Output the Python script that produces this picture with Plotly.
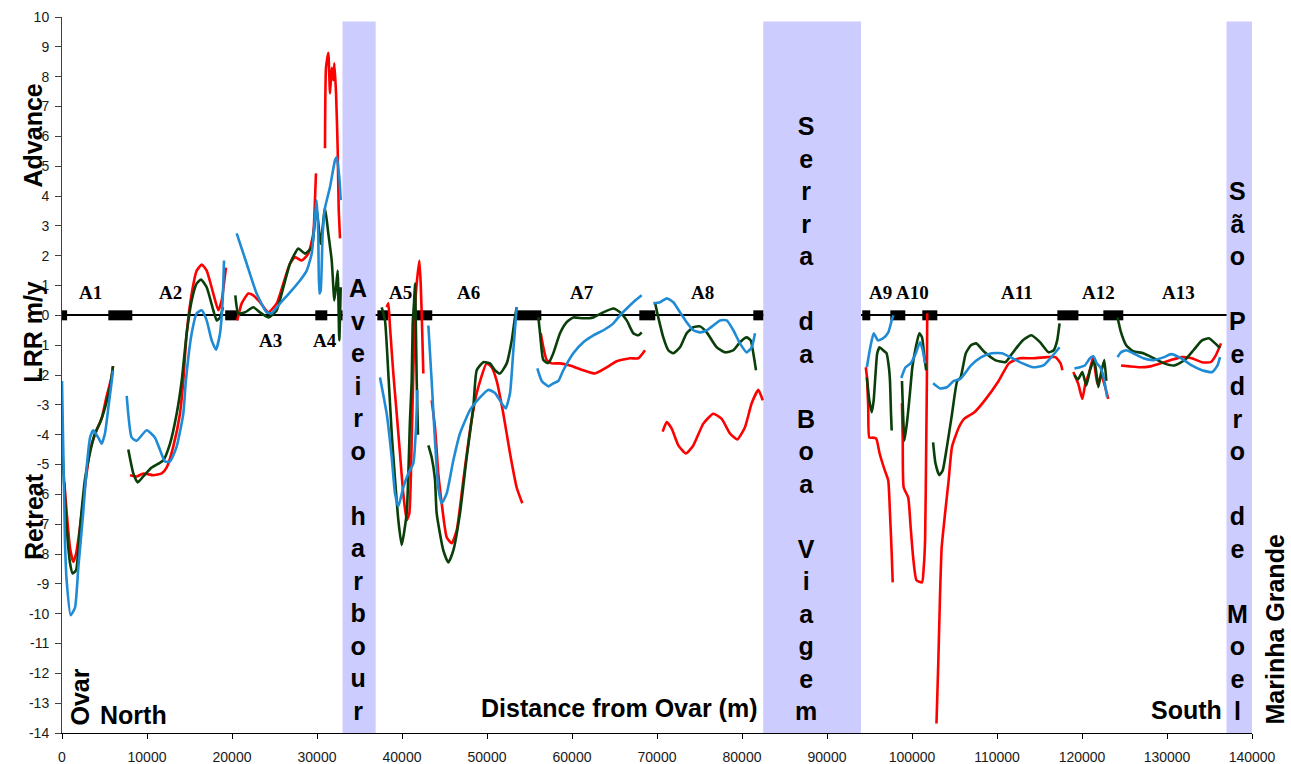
import plotly.graph_objects as go

# ---------------- data (x: distance from Ovar in m, y: LRR in m/y) ----------------
red_x = [270, 550, 940, 1330, 1650, 2120, 2700, 3300, 4080, 4670, 5260, 5850, 6000, None,
         8000, 8790, 9560, 10740, 11730, 12320, 13090, 13880, 14270, 14670, 15260, 15850, 16440, 17020, 17800, 18390, 18790, 19060, 19290, None,
         20620, 21140, 21920, 22510, 23290, 24270, 25260, 26040, 26820, 27410, 28200, 28980, 29570, 29760, 29880, None,
         30940, 31060, 31330, 31530, 31730, 31920, 32040, 32240, 32430, 32550, 32710, None,
         38200, 38390, 38590, 38980, 39380, 39760, 40150, 40550, 40860, 41140, 41330, 41530, 41730, 42040, 42200, 42350, 42510, None,
         43490, 43880, 44270, 44670, 45260, 45850, 46440, 47210, 48000, 48790, 49960, 50550, 51140, 51920, 52710, 53490, 54150, None,
         56320, 56630, 57020, 57610, 58590, 59760, 61330, 62710, 63880, 65260, 66820, 67800, 68590, None,
         70670, 71140, 71730, 72510, 73410, 74270, 75450, 76620, 77610, 78590, 79450, 80350, 81140, 81920, 82440, None,
         94565, 94700, 94850, 94980, 95380, 95790, 96190, 96800, 97200, 97410, 97610, 97730, None,
         98820, 98910, 99020, 99550, 99840, 100130, 100530, 101180, 101380, 101540, 101670, 101750, 101790, None,
         102880, 103090, 103290, 103490, 103890, 104310, 104710, 105520, 106130, 107340, 108560, 110190, 111400, 112620, 114250, 115870, 116880, 117480, 117690, None,
         118980, 119560, 120040, 120390, 120860, 121330, 121800, 122270, 122620, 123090, None,
         124590, 125600, 126820, 128040, 129250, 130470, 131680, 132910, 134120, 135130, 135740, 136350]
red_y = [-5.6, -6.6, -7.8, -8.27, -8.0, -7.1, -5.75, -4.5, -3.85, -3.45, -2.7, -2.05, -1.7, None,
         -5.36, -5.4, -5.3, -5.36, -5.3, -5.1, -4.4, -3.3, -2.2, -0.6, 0.73, 1.5, 1.7, 1.5, 0.73, 0.17, 0.5, 1.07, 1.6, None,
         -0.17, 0.4, 0.73, 0.67, 0.44, 0.1, 0.4, 1.07, 1.73, 1.95, 1.84, 2.07, 2.75, 3.86, 4.76, None,
         5.6, 8.3, 8.8, 7.44, 8.3, 7.88, 8.45, 7.44, 5.6, 3.6, 2.58, None,
         0.27, 0.4, -0.4, -1.95, -3.3, -4.63, -5.97, -6.87, -6.64, -4.2, -1.95, 0.27, 1.07, 1.84, 1.07, -0.27, -1.95, None,
         -2.85, -3.75, -5.3, -6.3, -7.44, -7.64, -7.2, -5.53, -3.86, -2.6, -1.61, -1.74, -2.2, -3.3, -4.63, -5.77, -6.3, None,
         -0.6, -1.07, -1.5, -1.61, -1.61, -1.68, -1.84, -1.95, -1.78, -1.54, -1.44, -1.44, -1.17, None,
         -3.9, -3.58, -3.8, -4.36, -4.63, -4.36, -3.63, -3.3, -3.47, -3.96, -4.16, -3.75, -2.95, -2.5, -2.85, None,
         -1.74, -2.08, -3.08, -4.1, -4.1, -4.13, -4.63, -5.2, -5.53, -6.64, -7.98, -8.95, None,
         -2.95, -4.2, -5.77, -6.1, -7.1, -8.1, -8.88, -8.95, -8.45, -7.54, -4.4, -2.2, 0.07, None,
         -13.68, -11.67, -9.45, -7.78, -6.64, -5.53, -4.4, -3.75, -3.47, -3.25, -2.85, -2.2, -1.61, -1.44, -1.44, -1.4, -1.4, -1.61, -1.84, None,
         -1.9, -2.3, -2.8, -2.3, -1.9, -1.4, -2.3, -2.0, -2.3, -2.8, None,
         -1.68, -1.71, -1.74, -1.71, -1.61, -1.5, -1.4, -1.44, -1.57, -1.57, -1.34, -0.94]

green_x = [0, 550, 940, 1260, 1650, 2120, 2700, 3300, 3880, 4470, 5060, 5650, 6000, None,
           7800, 8390, 8900, 9560, 10550, 11920, 12710, 13490, 14080, 14670, 15260, 15850, 16350, 17020, 17800, 18200, 18590, 18940, None,
           20390, 20740, 21530, 22510, 23290, 24270, 25260, 26040, 26820, 27800, 28590, 29380, 29760, 29960, 30430, 30940, 31330, 31730, 32040, 32240, 32430, 32620, 32790, None,
           37610, 38000, 38390, 38790, 39180, 39570, 39960, 40550, 40940, 41140, 41260, 41410, 41530, 41730, 41880, None,
           43100, 43490, 43880, 44080, 44860, 45450, 46040, 46820, 47610, 48390, 48790, 49570, 50350, 50940, 51530, 52320, 52910, 53290, 53490, None,
           56040, 56240, 56630, 57220, 57800, 58590, 59380, 60150, 61330, 62510, 63690, 64860, 65650, 66440, 67210, 67800, 68200, None,
           69760, 70150, 70740, 71330, 71920, 72710, 73490, 74270, 75060, 75850, 77020, 78000, 78980, 79760, 80550, 81020, 81330, 81650, None,
           94690, 94980, 95260, 95490, 95700, 95910, 96190, 96600, 97000, 97280, 97410, 97530, 97610, None,
           98820, 98950, 99110, 99440, 99760, 100040, 100450, 100860, 101180, 101460, 101670, None,
           102480, 102760, 103210, 103610, 104110, 104710, 105320, 105720, 106330, 106940, 107550, 108560, 109780, 111000, 111810, 113020, 114040, 115060, 116070, 116670, 117080, 117360, None,
           119110, 119520, 120040, 120500, 120980, 121450, 121920, 122270, 122620, 122860, None,
           124180, 124590, 125200, 126010, 127220, 128440, 129660, 130870, 132090, 133110, 134120, 134930, 135660, 136240]
green_y = [-4.3, -7.1, -8.3, -8.65, -8.55, -7.1, -5.5, -4.6, -3.95, -3.6, -3.1, -2.4, -1.7, None,
           -4.5, -5.3, -5.6, -5.4, -5.1, -4.86, -4.3, -3.3, -2.2, -0.6, 0.5, 1.07, 1.2, 0.94, 0.17, -0.17, -0.07, 0.27, None,
           0.67, 0.07, 0.1, 0.27, 0.1, -0.07, 0.17, 0.94, 1.73, 2.24, 2.07, 2.28, 3.2, 3.6, 2.4, 3.6, 2.75, 1.84, 0.5, 0.94, 1.5, -0.84, 0.94, None,
           0.27, -0.17, -1.95, -3.96, -5.5, -6.87, -7.7, -6.64, -3.5, -2.2, -0.27, 0.4, 1.07, -2.2, -4.0, None,
           -4.36, -4.76, -5.5, -6.64, -7.88, -8.28, -7.88, -6.64, -4.76, -3.08, -1.84, -1.57, -1.61, -1.84, -1.95, -1.61, -0.84, -0.07, 0.27, None,
           -0.07, -0.6, -1.5, -1.6, -1.27, -0.6, -0.23, -0.07, -0.1, -0.07, 0.1, 0.23, 0.1, -0.17, -0.6, -0.67, -0.57, None,
           0.44, -0.07, -0.74, -1.17, -1.27, -1.07, -0.6, -0.4, -0.37, -0.57, -1.07, -1.24, -1.17, -0.9, -0.74, -0.84, -1.27, -1.84, None,
           -2.08, -2.85, -3.25, -2.85, -2.0, -1.27, -1.07, -1.17, -1.27, -1.74, -2.2, -3.3, -3.86, None,
           -2.2, -3.3, -4.2, -3.52, -2.6, -1.74, -1.07, -0.6, -0.74, -1.4, -1.84, None,
           -4.26, -4.96, -5.36, -5.2, -4.4, -3.3, -2.2, -2.08, -1.27, -1.0, -0.94, -1.24, -1.5, -1.57, -1.27, -0.84, -0.67, -0.9, -1.24, -1.17, -0.84, -0.27, None,
           -2.0, -2.15, -1.9, -2.35, -1.8, -1.5, -2.4, -1.9, -1.5, -2.2, None,
           -0.07, -0.57, -1.0, -1.2, -1.27, -1.44, -1.61, -1.68, -1.5, -1.17, -0.84, -0.77, -0.94, -1.1]

blue_x = [0, 350, 550, 1020, 1530, 1920, 2500, 2900, 3300, 3680, 4270, 4670, 5060, 5450, 5850, 6000, None,
          7610, 8200, 8790, 9960, 10940, 12120, 12710, 13490, 14270, 14570, 15260, 15850, 16440, 17020, 17610, 18120, 18590, 18900, 19060, None,
          20550, 21730, 22900, 24080, 24670, 25650, 26820, 28000, 28790, 29380, 29760, 29960, 30150, 30270, 30430, 30670, 30940, 31530, 32120, 32320, 32620, 32790, None,
          37410, 38200, 38790, 39180, 39570, 40150, 40740, 41330, 41650, 41800, None,
          43100, 43490, 43880, 44270, 44670, 45260, 46040, 46820, 48000, 49180, 50150, 50940, 51730, 52200, 52710, 53100, 53490, None,
          55920, 56440, 57220, 57800, 58390, 58980, 60150, 61330, 62510, 63690, 64860, 65650, 66440, 67210, 68200, None,
          69570, 70350, 71140, 71920, 72710, 73490, 74270, 75060, 75850, 76620, 77410, 78200, 78980, 79760, 80550, 81140, 81530, None,
          94690, 95090, 95490, 95990, 96600, 97210, 97610, 97810, None,
          98740, 99240, 99840, 100450, 100940, 101260, 101540, None,
          102480, 103290, 104110, 104910, 105720, 106940, 108150, 109380, 110590, 111810, 113020, 114250, 115460, 116270, 117080, 117360, None,
          119110, 119720, 120330, 120940, 121340, 121750, 122150, 122550, 122960, None,
          124180, 124590, 125200, 126010, 127220, 128440, 129660, 130470, 131680, 132910, 134120, 135340, 135940, 136240]
blue_y = [-2.2, -7.6, -8.9, -10.05, -9.8, -8.45, -6.6, -5.1, -4.1, -3.85, -4.1, -4.3, -3.95, -3.1, -2.2, -1.85, None,
          -2.7, -4.1, -4.2, -3.85, -4.1, -4.9, -4.9, -4.4, -3.3, -2.2, -0.6, 0.07, 0.17, -0.17, -0.84, -1.15, -0.6, 0.5, 1.84, None,
          2.75, 1.73, 0.73, 0.1, 0.07, 0.4, 0.77, 1.17, 1.5, 2.07, 3.3, 3.86, 2.75, 0.73, 0.84, 2.75, 3.6, 4.3, 5.2, 5.3, 4.63, 3.86, None,
          -2.08, -3.3, -4.76, -5.97, -6.4, -5.77, -5.3, -4.96, -3.75, -2.5, None,
          -0.34, -2.2, -4.2, -5.77, -6.3, -5.97, -4.86, -3.96, -3.18, -2.75, -2.5, -2.6, -2.95, -3.12, -2.6, -1.17, 0.27, None,
          -1.78, -2.2, -2.38, -2.28, -2.2, -1.84, -1.27, -0.9, -0.67, -0.5, -0.27, 0.0, 0.23, 0.44, 0.67, None,
          0.4, 0.44, 0.57, 0.44, 0.1, -0.23, -0.5, -0.57, -0.5, -0.34, -0.17, -0.17, -0.5, -0.94, -1.24, -1.07, -0.6, None,
          -1.74, -1.07, -0.6, -0.84, -0.77, -0.57, -0.17, 0.0, None,
          -2.1, -1.74, -1.61, -1.27, -0.9, -1.17, -1.61, None,
          -2.28, -2.45, -2.41, -2.2, -2.12, -1.68, -1.4, -1.27, -1.27, -1.44, -1.61, -1.74, -1.68, -1.44, -1.17, -1.07, None,
          -1.78, -1.74, -1.68, -1.44, -1.37, -1.61, -1.74, -2.08, -2.75, None,
          -1.4, -1.24, -1.17, -1.27, -1.44, -1.5, -1.4, -1.3, -1.44, -1.68, -1.84, -1.9, -1.68, -1.4]

# section boundaries drawn on the zero line
boundary_start = [0, 5450, 19200, 29800, 32500, 37100, 41560, 53330, 67920, 81330, 94150, 97450, 101210, 117100, 122510]
boundary_end = [600, 8270, 20740, 31210, 33000, 38390, 43560, 56390, 69800, 82500, 95090, 99210, 102980, 119580, 124860]

# section labels
section_labels = ["A1", "A2", "A3", "A4", "A5", "A6", "A7", "A8", "A9", "A10", "A11", "A12", "A13"]
section_label_x = [3330, 12740, 24500, 30980, 39800, 47800, 61200, 75330, 96270, 100040, 112390, 121920, 131330]
section_label_y = [0.77, 0.77, -0.84, -0.84, 0.77, 0.77, 0.77, 0.77, 0.77, 0.77, 0.77, 0.77, 0.77]

# shaded coastal structures / headlands
band_names = ["Aveiro harbour", "Serra da Boa Viagem", "São Pedro de Moel"]
band_start = [33000, 82500, 137000]
band_end = [36900, 94000, 140000]
band_text_x = [34870, 87530, 138270]
band_top = 9.85

x_ticks = list(range(0, 140001, 10000))
y_ticks = list(range(-14, 11, 1))

# ---------------- figure ----------------
fig = go.Figure()

bx, by = [], []
for s, e in zip(boundary_start, boundary_end):
    bx += [s, e, None]
    by += [0, 0, None]
fig.add_trace(go.Scatter(x=bx, y=by, mode="lines", line=dict(color="black", width=10),
                         hoverinfo="skip", showlegend=False))

for xs, ys, col in [(red_x, red_y, "#FF0000"), (green_x, green_y, "#0A3F0A"), (blue_x, blue_y, "#1F8BD5")]:
    fig.add_trace(go.Scatter(x=xs, y=ys, mode="lines", connectgaps=False,
                             line=dict(color=col, width=2.6, shape="spline", smoothing=0.5),
                             hoverinfo="skip", showlegend=False))

shapes = []
for s, e in zip(band_start, band_end):
    shapes.append(dict(type="rect", xref="x", yref="y", x0=s, x1=e, y0=-14, y1=band_top,
                       fillcolor="#CCCCFF", line=dict(width=0), layer="between"))

label_font = dict(family="Arial, Liberation Sans, sans-serif", size=25, color="black")
annotations = []
for name, xc in zip(band_names, band_text_x):
    txt = "<br>".join(("\u00a0" if ch == " " else ch) for ch in name)
    annotations.append(dict(x=xc, y=-14, xref="x", yref="y", text="<b>" + txt + "</b>",
                            showarrow=False, xanchor="center", yanchor="bottom", yshift=6,
                            font=label_font, align="center"))

for lab, lx, ly in zip(section_labels, section_label_x, section_label_y):
    annotations.append(dict(x=lx, y=ly, xref="x", yref="y", text="<b>" + lab + "</b>",
                            showarrow=False, xanchor="center", yanchor="middle",
                            font=dict(family="Times New Roman, Liberation Serif, serif", size=19, color="black")))

side_texts = [
    ("Advance", -0.0241, 0.835, -90),
    ("LRR m/y", -0.0241, 0.561, -90),
    ("Retreat", -0.0241, 0.302, -90),
    ("Ovar", 0.0154, 0.050, -90),
    ("North", 0.0603, 0.0251, 0),
    ("Distance from Ovar (m)", 0.468, 0.0349, 0),
    ("South", 0.945, 0.0321, 0),
    ("Marinha Grande", 1.019, 0.144, -90),
]
for t, px, py, ang in side_texts:
    annotations.append(dict(x=px, y=py, xref="paper", yref="paper", text="<b>" + t + "</b>",
                            showarrow=False, xanchor="center", yanchor="middle", textangle=ang,
                            font=label_font))

tick_font = dict(family="Arial, Liberation Sans, sans-serif", size=14, color="#1a1a1a")
fig.update_layout(
    width=1291, height=764, autosize=False,
    margin=dict(l=62, r=39, t=17, b=31, autoexpand=False),
    plot_bgcolor="white", paper_bgcolor="white",
    shapes=shapes, annotations=annotations, showlegend=False,
    xaxis=dict(range=[0, 140000], tickvals=x_ticks, ticktext=[str(v) for v in x_ticks],
               showgrid=False, zeroline=False, showline=True, linecolor="black", linewidth=1,
               ticks="outside", ticklen=5, tickcolor="black", tickfont=tick_font, automargin=False,
               ticklabelstandoff=6),
    yaxis=dict(range=[-14, 10], tickvals=y_ticks, ticktext=[str(v) for v in y_ticks],
               showgrid=False, zeroline=True, zerolinecolor="black", zerolinewidth=1.5,
               showline=True, linecolor="#404040", linewidth=1, ticklabelstandoff=3,
               ticks="outside", ticklen=6, tickcolor="#404040", tickfont=tick_font, automargin=False),
)

fig.write_html("out.html",
               config={"responsive": False, "displayModeBar": False},
               post_script="document.body.style.margin='0';document.body.style.overflow='hidden';")
